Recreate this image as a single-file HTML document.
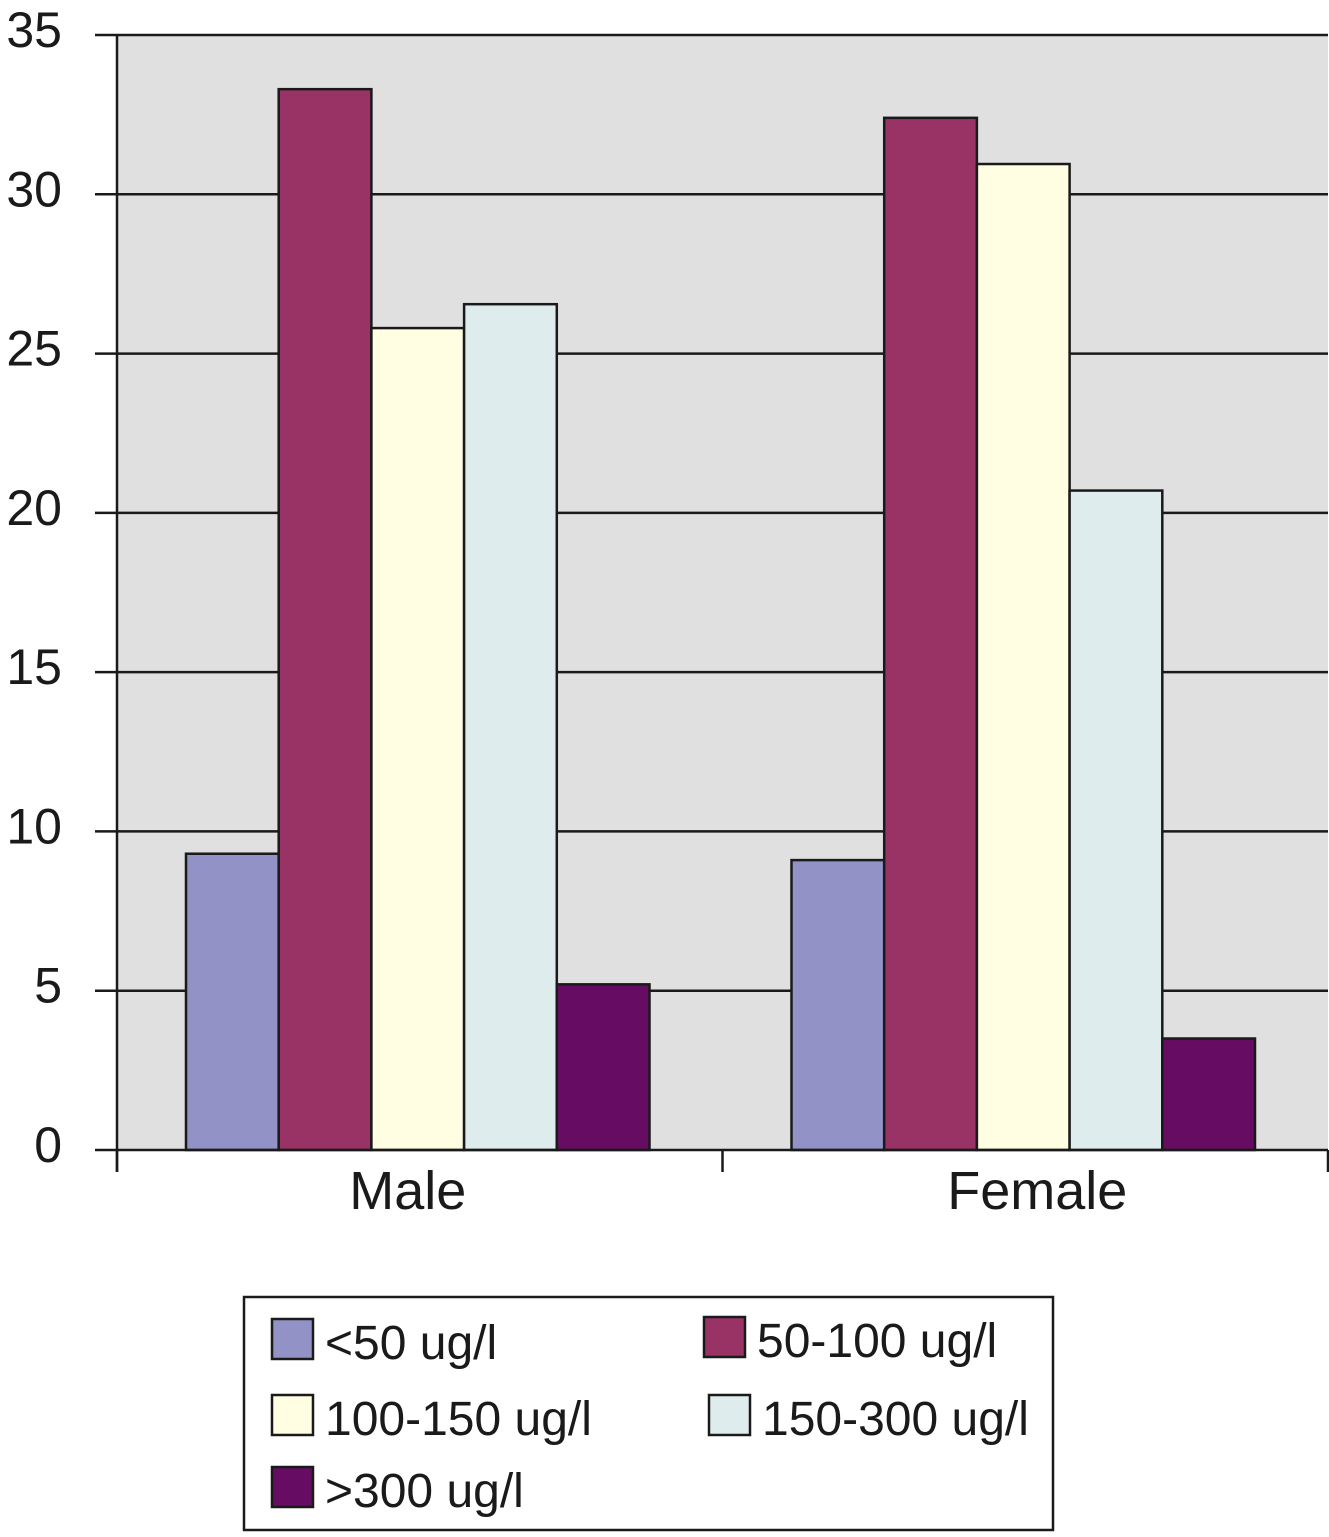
<!DOCTYPE html>
<html><head><meta charset="utf-8"><style>
body{margin:0;background:#fff}
svg text{font-family:"Liberation Sans",Arial,sans-serif;fill:#1a1a1a}
</style></head><body>
<svg width="1329" height="1532" viewBox="0 0 1329 1532">
<g id="chart"></g>
</svg>
<script>
const categories=["Male","Female"];
const seriesNames=["<50 ug/l","50-100 ug/l","100-150 ug/l","150-300 ug/l",">300 ug/l"];
const seriesColors=["#9292c6","#993366","#fffde2","#dfecee","#660c62"];
const s1=[9.3,9.1];
const s2=[33.3,32.4];
const s3=[25.8,30.95];
const s4=[26.55,20.7];
const s5=[5.2,3.5];
const yTicks=[0,5,10,15,20,25,30,35];
const series=[s1,s2,s3,s4,s5];
const NS="http://www.w3.org/2000/svg";
const g=document.getElementById('chart');
const L=117,R=1328,T=35,B=1150,YMAX=35;
const y=v=>B-(v/YMAX)*(B-T);
const catW=(R-L)/categories.length;
const barW=92.7;
function mk(t,a,p){const e=document.createElementNS(NS,t);for(const k in a)e.setAttribute(k,a[k]);(p||g).appendChild(e);return e;}
const bg=mk('rect',{x:L,y:T,width:R-L,height:B-T,fill:'#e0e0e0'});


yTicks.forEach(v=>{
 if(v>0){const gl=mk('line',{x1:L,x2:R,y1:y(v),y2:y(v),stroke:'#1a1a1a','stroke-width':2.5});
 
 }
 mk('line',{x1:95,x2:L,y1:y(v),y2:y(v),stroke:'#1a1a1a','stroke-width':2.5});
 const t=mk('text',{x:62,y:y(v)+12,'text-anchor':'end','font-size':50});t.textContent=v;
 
 
});
categories.forEach((c,i)=>{
 const cx=L+catW*(i+0.5);
 const start=cx-2-barW*series.length/2;
 series.forEach((s,j)=>{
  const r=mk('rect',{x:start+j*barW,y:y(s[i]),width:barW,height:B-y(s[i]),fill:seriesColors[j],stroke:'#1a1a1a','stroke-width':2.5});
  
  
 });
 const t=mk('text',{x:cx-12+i*24,y:1209,'text-anchor':'middle','font-size':54});t.textContent=c;
 
 
});
mk('line',{x1:L,x2:L,y1:T,y2:1172,stroke:'#1a1a1a','stroke-width':2.5});
mk('line',{x1:L,x2:R,y1:B,y2:B,stroke:'#1a1a1a','stroke-width':2.5});
for(let i=0;i<=categories.length;i++){const x=L+catW*i;mk('line',{x1:x,x2:x,y1:B,y2:1172,stroke:'#1a1a1a','stroke-width':2.5});}
const lg=mk('g',{});


mk('rect',{x:244,y:1297,width:809,height:233,fill:'#fff',stroke:'#1a1a1a','stroke-width':2.5},lg);
const pos=[[272,1339],[704,1337],[272,1415],[709,1415],[272,1487]];
seriesNames.forEach((n,j)=>{
 const [sx,sy]=pos[j];
 const sw=mk('rect',{x:sx,y:sy-20,width:41,height:40,fill:seriesColors[j],stroke:'#1a1a1a','stroke-width':2.5},lg);
 
 
 const t=mk('text',{x:sx+53,y:sy+20,'font-size':48},lg);t.textContent=n;
 
 
});
</script>
</body></html>
